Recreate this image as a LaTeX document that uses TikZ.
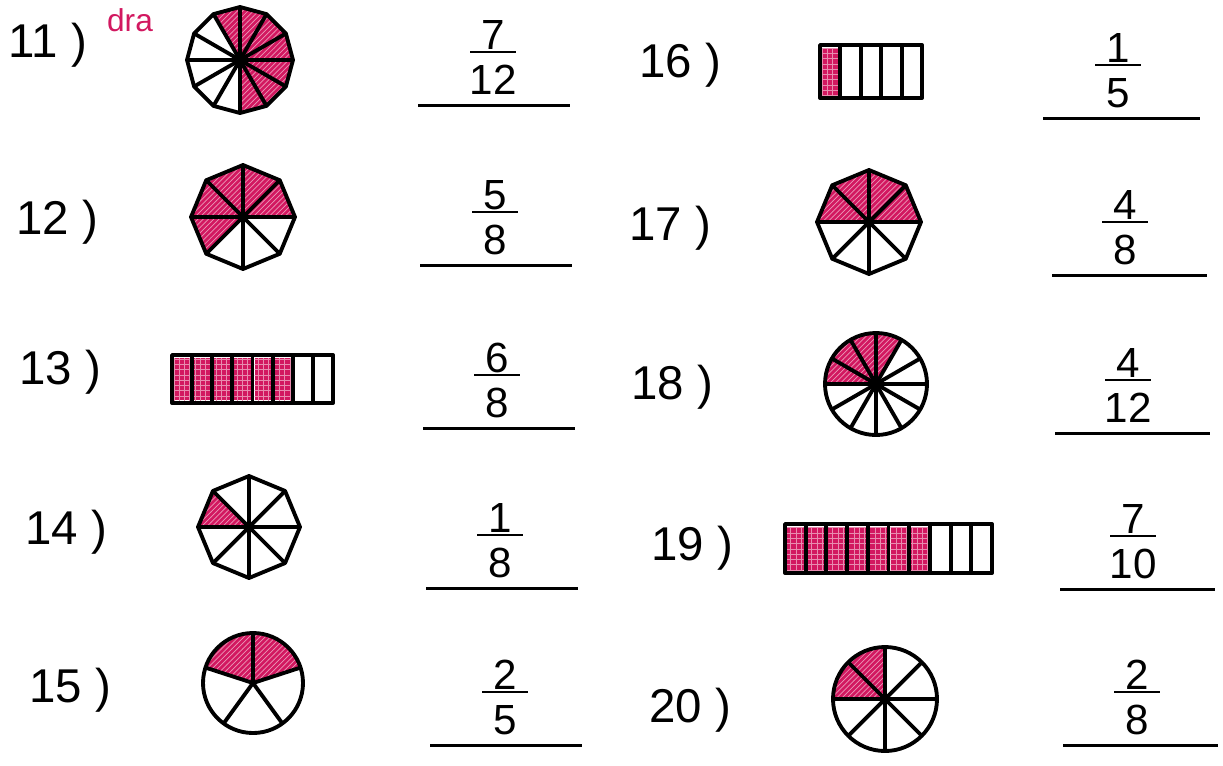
\documentclass[tikz,border=0pt]{standalone}
\usepackage{fontspec}
\setmainfont{Liberation Sans}
\usetikzlibrary{patterns}

\definecolor{ink}{RGB}{210,24,96}

\tikzset{
  outline/.style={line width=2.2pt, line join=round},
  shaded/.style={fill=ink, postaction={pattern=north east lines, pattern color=ink!45!white}},
  gridshade/.style={fill=ink, postaction={pattern=grid, pattern color=ink!50!white}},
  answer/.style={line width=1.7pt},
  fracbar/.style={line width=1.6pt},
  qnum/.style={font=\fontsize{27}{30}\selectfont},
  digit/.style={font=\fontsize{24}{26}\selectfont, inner sep=0pt}
}

% centre, radius, sides, first shaded vertex angle, shaded sectors
\newcommand{\polyfrac}[5]{%
  \begin{scope}[shift={#1}, x=0.02cm, y=0.02cm]
    \pgfmathsetmacro{\stp}{360/#3}
    \path[shaded] (0,0) \foreach \k in {0,...,#5} { -- ({#4+\k*\stp}:#2) } -- cycle;
    \draw[outline] (0:#2) \foreach \k in {1,...,#3} { -- ({\k*\stp}:#2) } -- cycle;
    \foreach \k in {1,...,#3} \draw[outline] (0,0) -- ({\k*\stp}:#2);
  \end{scope}}

% centre, radius, spokes, spoke offset, shade from, shade to
\newcommand{\circfrac}[6]{%
  \begin{scope}[shift={#1}, x=0.02cm, y=0.02cm]
    \pgfmathsetmacro{\stp}{360/#3}
    \path[shaded] (0,0) -- (#5:#2) arc[start angle=#5, end angle=#6, radius=#2] -- cycle;
    \draw[outline] (0,0) circle[radius=#2];
    \foreach \k in {1,...,#3} \draw[outline] (0,0) -- ({#4+\k*\stp}:#2);
  \end{scope}}

% left x, top y, width, height, cells, shaded cells
\newcommand{\barfrac}[6]{%
  \pgfmathsetmacro{\cw}{#3/#5}
  \foreach \k in {1,...,#6} \path[gridshade] ({#1+(\k-1)*\cw+2},#2+3) rectangle ({#1+\k*\cw-2},#2+#4-3);
  \draw[outline] (#1,#2) rectangle (#1+#3,#2+#4);
  \foreach \k in {1,...,#5} \draw[outline] ({#1+\k*\cw},#2) -- ({#1+\k*\cw},#2+#4);
}

\begin{document}
\begin{tikzpicture}[x=0.02cm, y=-0.02cm]
  \useasboundingbox (0,0) rectangle (1223,765);
  \fill[white] (0,0) rectangle (1223,765);

  \node[text=ink, inner sep=1pt, font=\fontsize{18}{19}\selectfont] (note) at (130,20) {dra};

  % question numbers
  \foreach \i/\x/\y in {11/48/45, 12/57/222, 13/60/372, 14/66/532, 15/70/690,
                        16/680/65, 17/670/228, 18/672/387, 19/692/548, 20/690/710} {
    \node[qnum] (q\i) at (\x,\y) {\i\ )};
  }

  % pictures
  \polyfrac{(240,60)}{53}{12}{270}{7}
  \polyfrac{(243,217)}{52}{8}{0}{5}
  \barfrac{172}{355}{161}{48}{8}{6}
  \polyfrac{(249,527)}{51}{8}{135}{1}
  \circfrac{(253,683)}{50}{5}{18}{18}{162}
  \barfrac{820}{45}{102}{53}{5}{1}
  \polyfrac{(869,222)}{52}{8}{0}{4}
  \circfrac{(876,384)}{51}{12}{0}{60}{180}
  \barfrac{785}{524}{207}{49}{10}{7}
  \circfrac{(885,699)}{52}{8}{0}{90}{180}

  % answers
  \foreach \i/\x/\b/\n/\d/\la/\lb in {11/493/52/7/12/418/570, 12/495/212/5/8/420/572,
      13/497/375/6/8/423/575, 14/500/535/1/8/426/578, 15/505/692/2/5/430/582,
      16/1118/65/1/5/1043/1200, 17/1125/222/4/8/1052/1207, 18/1128/380/4/12/1055/1210,
      19/1133/536/7/10/1060/1215, 20/1137/692/2/8/1063/1218} {
    \node[digit] (n\i) at (\x,\b-17) {\n};
    \node[digit] (d\i) at (\x,\b+28) {\d};
    \draw[fracbar] (\x-23,\b) -- (\x+23,\b);
    \draw[answer] (\la,\b+53) -- (\lb,\b+53);
  }
\end{tikzpicture}
\end{document}
